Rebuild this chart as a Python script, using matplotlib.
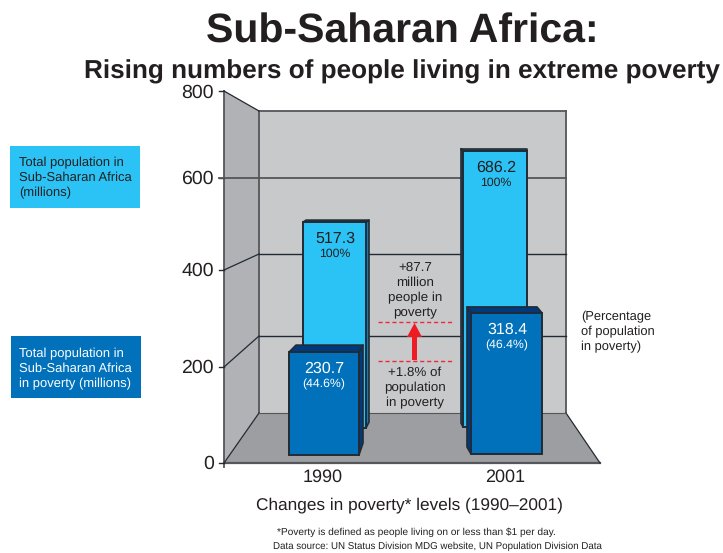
import matplotlib
matplotlib.use("Agg")
import matplotlib.pyplot as plt
import numpy as np
from matplotlib.patches import Polygon, Rectangle

plt.rcParams["font.family"] = ["Liberation Sans", "DejaVu Sans"]
plt.rcParams["text.hinting"] = "no_hinting"

TITLE = "Sub-Saharan Africa:"
SUBTITLE = "Rising numbers of people living in extreme poverty"
years = ["1990", "2001"]
total_pop = [517.3, 686.2]
poverty_pop = [230.7, 318.4]
poverty_pct = ["(44.6%)", "(46.4%)"]
y_ticks = [0, 200, 400, 600, 800]

LIGHT = "#2BC3F5"
LIGHT_SIDE = "#0F7FBE"
DARK = "#0071BA"
DARK_SIDE = "#003A7D"
WALL = "#C8C9CB"
SIDE_WALL = "#B1B2B5"
FLOOR = "#9D9EA1"
EDGE = "#222B33"
TEXT = "#231F20"
GRID = "#555659"
RED = "#F0283A"

# the axis in the source is not quite linear, so the scale goes through the ticks
FRONT_PX = [463, 367, 270, 177.5, 91]
BACK_PX = [413, 336, 254, 177.5, 111]


def front_y(v):
    return float(np.interp(v, y_ticks, FRONT_PX))


def back_y(v):
    return float(np.interp(v, y_ticks, BACK_PX))


def box(ax, x0, x1, base, scale, value, back, face, side, z=3):
    # back = (left shift, right shift, top rise, bottom rise)
    dx0, dx1, rise, base_rise = back
    top = base - value * scale
    if dx0 > 0:
        side_pts = [(x1, base), (x1 + dx1, base - base_rise), (x1 + dx1, top - rise), (x1, top)]
    else:
        side_pts = [(x0, base), (x0 + dx0, base - base_rise), (x0 + dx0, top - rise), (x0, top)]
    top_pts = [(x0, top), (x1, top), (x1 + dx1, top - rise), (x0 + dx0, top - rise)]
    ax.add_patch(Polygon(side_pts, fc=side, ec=EDGE, lw=1.2, zorder=z, joinstyle="round"))
    ax.add_patch(Polygon(top_pts, fc=side, ec=EDGE, lw=1.2, zorder=z, joinstyle="round"))
    ax.add_patch(Rectangle((x0, top), x1 - x0, base - top, fc=face, ec=EDGE, lw=1.4, zorder=z + 0.1))
    return top


fig = plt.figure(figsize=(7.23, 5.53), dpi=100)
ax = fig.add_axes([0, 0, 1, 1])
ax.set_xlim(0, 723)
ax.set_ylim(553, 0)
ax.axis("off")

ax.text(402, 43, TITLE, fontsize=29.5, fontweight="bold", ha="center", va="baseline", color=TEXT)
ax.text(402, 78, SUBTITLE, fontsize=18.8, fontweight="bold", ha="center", va="baseline", color=TEXT)

# walls and floor
ax.add_patch(Polygon([(224, front_y(800)), (259, back_y(800)), (259, back_y(0)), (224, front_y(0))],
                     fc=SIDE_WALL, ec="none", zorder=1))
ax.add_patch(Rectangle((259, back_y(800)), 307, back_y(0) - back_y(800), fc=WALL, ec="none", zorder=1))
ax.add_patch(Polygon([(224, front_y(0)), (259, back_y(0)), (566, back_y(0)), (600, front_y(0))],
                     fc=FLOOR, ec="none", zorder=1))

ax.plot([224, 224], [front_y(800), front_y(0) + 4], color=GRID, lw=1.3, zorder=2)
ax.plot([259, 259], [back_y(800), back_y(0)], color=GRID, lw=1.3, zorder=2)
ax.plot([566, 566], [back_y(800), back_y(0)], color=GRID, lw=1.3, zorder=2)
ax.plot([259, 566], [back_y(800), back_y(800)], color=GRID, lw=1.3, zorder=2)
ax.plot([224, 600], [front_y(0), front_y(0)], color=GRID, lw=1.6, zorder=2)
ax.plot([566, 600], [back_y(0), front_y(0)], color=EDGE, lw=0.9, zorder=2)
ax.plot([224, 259], [front_y(0), back_y(0)], color=EDGE, lw=0.9, zorder=2)
ax.plot([259, 566], [back_y(0), back_y(0)], color=GRID, lw=0.8, zorder=2)

for v in y_ticks:
    ax.text(214, front_y(v) + (2 if v == 800 else 1), str(v), fontsize=14, ha="right", va="center", color=TEXT)
    ax.plot([219, 224], [front_y(v), front_y(v)], color=EDGE, lw=1, zorder=2)
    if v in (200, 400, 800):
        ax.plot([224, 259], [front_y(v), back_y(v)], color=EDGE, lw=0.9, zorder=2)
    if v in (200, 400):
        ax.plot([259, 566], [back_y(v), back_y(v)], color=EDGE, lw=1.0, zorder=2)
    if v == 600:
        ax.plot([219, 566], [back_y(v), back_y(v)], color=GRID, lw=1.3, zorder=2)

# light bars sit further back than the dark ones
t0 = box(ax, 303, 366, 428, 0.398, total_pop[0], (3, 3, 2, 6), LIGHT, LIGHT_SIDE, z=3)
t1 = box(ax, 463, 527, 427, 0.4027, total_pop[1], (-2, 0, 2, 4), LIGHT, LIGHT_SIDE, z=3)
d0 = box(ax, 289, 359, 455, 0.446, poverty_pop[0], (7, 4, 7, 12), DARK, DARK_SIDE, z=5)
d1 = box(ax, 471, 542, 454, 0.443, poverty_pop[1], (-4, -5, 6, 7), DARK, DARK_SIDE, z=5)

for x, top, val in zip([335, 496], [t0, t1], total_pop):
    ax.text(x, top + 17, f"{val}", fontsize=11.5, ha="center", va="center", color=TEXT, zorder=7)
    ax.text(x, top + 32, "100%", fontsize=8.8, ha="center", va="center", color=TEXT, zorder=7)
for x, top, val, pct in zip([324, 507], [d0, d1], poverty_pop, poverty_pct):
    ax.text(x, top + 16.5, f"{val}", fontsize=11.5, ha="center", va="center", color="white", zorder=7)
    ax.text(x, top + 32, pct, fontsize=8.8, ha="center", va="center", color="white", zorder=7)

# change between the two poverty levels
ax.plot([378, 453], [322, 322], color=RED, lw=1, ls=(0, (3, 2)), zorder=4)
ax.plot([378, 453], [361, 361], color=RED, lw=1, ls=(0, (3, 2)), zorder=4)
ax.arrow(414.5, 360, 0, -37, width=5, head_width=15, head_length=14, length_includes_head=True,
         fc="#ED1C24", ec="none", zorder=4)
ax.text(415, 290.5, "+87.7\nmillion\npeople in\npoverty", fontsize=9.6, ha="center", va="center",
        color=TEXT, linespacing=1.31, zorder=4)
ax.text(415, 388, "+1.8% of\npopulation\nin poverty", fontsize=9.6, ha="center", va="center",
        color=TEXT, linespacing=1.31, zorder=4)

for x, label in zip([323, 505], years):
    ax.text(x, 477, label, fontsize=13, ha="center", va="center", color=TEXT)
ax.text(409, 505, "Changes in poverty* levels (1990\u20132001)", fontsize=12.4, ha="center", va="center", color=TEXT)

ax.text(581, 332, "(Percentage\nof population\nin poverty)", fontsize=9.3, ha="left", va="center", color=TEXT,
        linespacing=1.31)

# legend boxes
ax.add_patch(Rectangle((10, 146), 130, 62, fc=LIGHT, ec="none"))
ax.text(19, 178, "Total population in\nSub-Saharan Africa\n(millions)", fontsize=9.4, ha="left", va="center",
        color=TEXT, linespacing=1.31)
ax.add_patch(Rectangle((11, 336), 130, 62, fc=DARK, ec="none"))
ax.text(19, 369, "Total population in\nSub-Saharan Africa\nin poverty (millions)", fontsize=9.4, ha="left", va="center",
        color="white", linespacing=1.31)

ax.text(416.5, 532, "*Poverty is defined as people living on or less than $1 per day.", fontsize=7.3, ha="center",
        va="center", color=TEXT)
ax.text(437, 546, "Data source: UN Status Division MDG website, UN Population Division Data", fontsize=7, ha="center",
        va="center", color=TEXT)

fig.savefig("out.png", dpi=100)
